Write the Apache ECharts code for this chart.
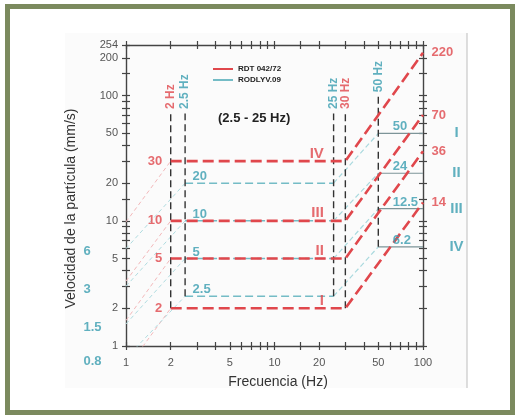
<!DOCTYPE html>
<html><head><meta charset="utf-8">
<script src="https://cdn.jsdelivr.net/npm/echarts@6/dist/echarts.min.js"></script>
<style>html,body{margin:0;padding:0;background:#fff}#c{width:520px;height:416px}</style>
</head><body><div id="c"></div>
<script>
// ---- data ----
const freqTicks = [1,2,3,4,5,6,7,8,9,10,15,20,30,40,50,60,70,80,90,100];
const freqLabels = [1,2,5,10,20,50,100];
const velTicks = [1,2,3,4,5,6,7,8,9,10,15,20,30,40,50,60,70,80,90,100,150,200,254];
const velLabels = [1,2,5,10,20,50,100,200,254];

// RDT 042/72 (red)
const rdtLevels = [2,5,10,30];
const rdtAt1Hz = [0.65,1.6,3.3,9.8];
const rdtAt100Hz = [14,36,70,220];
const rdtStartHz = 2, rdtBreakHz = 30, rdtEndHz = 100;
const rdtRoman = ['I','II','III','IV'];

// RODLYV.09 (teal)
const rodLevels = [2.5,5,10,20];
const rodAt1Hz = [0.8,1.5,3,6];
const rodAt50Hz = [6.2,12.5,24,50];
const rodStartHz = 2.5, rodBreakHz = 25, rodKneeHz = 50, rodEndHz = 100;
const rodRoman = ['IV','III','II','I'];

// vertical frequency limits
const limitHz = [2,2.5,25,30,50];
const limitText = ['2 Hz','2.5 Hz','25 Hz','30 Hz','50 Hz'];
const limitStd = ['RDT','ROD','ROD','RDT','ROD'];
const limitBottom = [2,2.5,2.5,2,6.2];
const limitTop = [72,72,72,72,98];

// ---- chart ----
const L = v => Math.log10(v);
const FONT = '"Liberation Sans", Arial, sans-serif';
const RED = '#e0474c', TEAL = '#3a9db0', TEAL_LINE = '#74bcc6', INK = '#444';
const stdColor = {RDT: RED, ROD: TEAL};
const pts = arr => arr.map(p => [L(p[0]), L(p[1])]);
const fmt = v => String(Math.round(Math.pow(10, v)));

const series = [];
function line(name, data, color, width, type, z) {
  series.push({name, type:'line', symbol:'none', silent:true, z: z||3, clip:true,
    itemStyle:{color: name==='RDT 042/72'?RED:(name==='RODLYV.09'?TEAL_LINE:color)},
    lineStyle:{color, width, type}, data: pts(data)});
}
rdtLevels.forEach((lv,i) => {
  line('RDT 042/72', [[1, rdtAt1Hz[i]],[rdtStartHz, lv]], '#f3b8ba', 1, [4,3], 2);
});
rodLevels.forEach((lv,i) => {
  line('RODLYV.09', [[1, rodAt1Hz[i]],[rodStartHz, lv]], '#b0dce0', 1, [4,3], 2);
  line('RODLYV.09', [[rodStartHz, lv],[rodBreakHz, lv]], TEAL_LINE, 1.5, [8,4], 3);
  line('RODLYV.09', [[rodBreakHz, lv],[rodKneeHz, rodAt50Hz[i]]], '#a9d9de', 1.2, [5,3], 2);
  line('RODLYV.09', [[rodKneeHz, rodAt50Hz[i]],[rodEndHz, rodAt50Hz[i]]], '#7d9498', 1.2, 'solid', 3);
});
limitHz.forEach((f,i) => {
  line('lim'+i, [[f, limitBottom[i]],[f, limitTop[i]]], '#333', 1.4, [7,4], 3);
});
rdtLevels.forEach((lv,i) => {
  line('RDT 042/72', [[rdtStartHz, lv],[rdtBreakHz, lv],[rdtEndHz, rdtAt100Hz[i]]], RED, 2.6, [11,5], 4);
});

function texts(items, label) {
  series.push({type:'scatter', silent:true, clip:false, symbolSize:1, z:6,
    itemStyle:{color:'rgba(0,0,0,0)'},
    label: Object.assign({show:true, formatter:'{b}', fontFamily:FONT, fontWeight:'bold'}, label),
    data: items.map(it => ({name: it.t, value:[L(it.x), L(it.y)], label: it.c ? {color: it.c} : undefined}))});
}
texts(rdtLevels.map(lv => ({t:String(lv), x:rdtStartHz, y:lv})),
  {position:'left', distance:8, color:RED, fontSize:13});
texts(rdtLevels.map((lv,i) => ({t:rdtRoman[i], x:rdtBreakHz, y:lv})),
  {position:'left', distance:21, verticalAlign:'bottom', color:RED, fontSize:15});
texts(rdtAt100Hz.map(v => ({t:String(v), x:rdtEndHz, y:v})),
  {position:'right', distance:8, color:RED, fontSize:13});
texts(rodLevels.map(lv => ({t:String(lv), x:rodStartHz, y:lv})),
  {position:'right', distance:7, align:'left', verticalAlign:'bottom', color:TEAL, fontSize:13});
texts(rodAt50Hz.map(v => ({t:String(v), x:rodKneeHz, y:v})),
  {position:'right', distance:14, align:'left', verticalAlign:'bottom', color:TEAL, fontSize:13});
texts(rodAt50Hz.map((v,i) => ({t:rodRoman[i], x:rodEndHz, y:v})),
  {position:'right', distance:33, align:'center', color:TEAL, fontSize:15});
texts(rodAt1Hz.map(v => ({t:String(v), x:1, y:v})),
  {position:'left', distance:5, align:'left', offset:[-37,3], color:TEAL, fontSize:13});
texts(limitHz.map((f,i) => ({t:limitText[i], x:f, y:limitTop[i], c:stdColor[limitStd[i]]})),
  {position:'top', distance:4, rotate:90, align:'left', verticalAlign:'middle', fontSize:12});

const tickLine = {color: INK, width: 1.2};
function xAx(pos, inside, main) {
  const a = {type:'value', min:0, max:2, position:pos, splitLine:{show:false},
    axisLine:{show:!inside, onZero:false, lineStyle:{color:INK, width:1.4}},
    axisTick:{show:true, inside, length:4, customValues:freqTicks.map(L), lineStyle:tickLine},
    axisLabel:{show:false}};
  if (main) {
    a.axisLabel = {show:true, customValues:freqLabels.map(L), formatter:fmt, margin:11,
      color:'#555', fontSize:11, fontFamily:FONT};
    a.name = 'Frecuencia (Hz)'; a.nameLocation = 'middle'; a.nameGap = 29;
    a.nameTextStyle = {fontSize:14, color:'#333', fontFamily:FONT, padding:[0,0,0,7]};
  }
  return a;
}
function yAx(pos, inside, main) {
  const a = {type:'value', min:0, max:L(254), position:pos, splitLine:{show:false},
    axisLine:{show:!inside, onZero:false, lineStyle:{color:INK, width:1.4}},
    axisTick:{show:true, inside, length:4, customValues:velTicks.map(L), lineStyle:tickLine},
    axisLabel:{show:false}};
  if (main) {
    a.axisLabel = {show:true, customValues:velLabels.map(L), formatter:fmt, margin:8,
      color:'#555', fontSize:11, fontFamily:FONT};
    a.name = 'Velocidad de la partícula (mm/s)'; a.nameLocation = 'middle'; a.nameGap = 48;
    a.nameRotate = 90;
    a.nameTextStyle = {fontSize:14, color:'#333', fontFamily:FONT, padding:[0,26,0,0]};
  }
  return a;
}

const chart = echarts.init(document.getElementById('c'), null, {renderer:'canvas'});
chart.setOption({
  animation:false,
  backgroundColor:'#ffffff',
  grid:{left:126, right:97, top:45, bottom:70, containLabel:false},
  xAxis:[xAx('bottom',false,true), xAx('bottom',true,false), xAx('top',false,false), xAx('top',true,false)],
  yAxis:[yAx('left',false,true), yAx('left',true,false), yAx('right',false,false), yAx('right',true,false)],
  title:{text:'(2.5 - 25 Hz)', left:213, top:107,
    textStyle:{fontSize:13, fontWeight:'bold', color:'#222', fontFamily:FONT}},
  legend:{data:['RDT 042/72','RODLYV.09'], orient:'vertical', left:208, top:60, itemGap:3,
    icon:'rect', itemWidth:20, itemHeight:2, selectedMode:false,
    textStyle:{fontSize:8, fontWeight:'bold', color:'#222', fontFamily:FONT}},
  graphic:[
    {type:'rect', z:-10, silent:true, shape:{x:65, y:33, width:402, height:355}, style:{fill:'#fbfbfb'}},
    {type:'line', z:-9, silent:true, shape:{x1:467, y1:33, x2:467, y2:388}, style:{stroke:'#c8c8c8', lineWidth:1.2}},
    {type:'rect', z:100, silent:true, shape:{x:7.5, y:6.5, width:505, height:406}, style:{fill:null, stroke:'#7b8a5e', lineWidth:5}}
  ],
  series
});
</script></body></html>
